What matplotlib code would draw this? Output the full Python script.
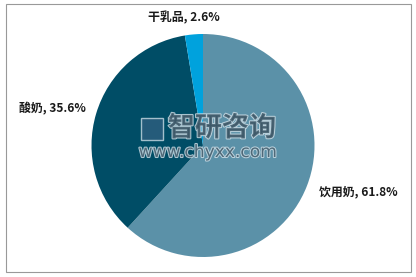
import matplotlib.pyplot as plt
from matplotlib import patheffects
from matplotlib.patches import Rectangle

plt.rcParams['font.family'] = ['Noto Sans CJK SC', 'DejaVu Sans']

CATEGORIES = ["饮用奶", "酸奶", "干乳品"]
SHARES = [61.8, 35.6, 2.6]
COLORS = ["#5b91a8", "#004d66", "#00a2dd"]
# label positions in figure pixels (x centre, y centre from top)
LABEL_POS = [(358, 192), (52, 109), (184, 18)]


def main() -> None:
    W, H = 416, 277
    fig = plt.figure(figsize=(W / 100, H / 100), dpi=100)

    cx, cy, r = 203, 145.5, 111.5
    ax = fig.add_axes([(cx - r) / W, (H - cy - r) / H, 2 * r / W, 2 * r / H])
    ax.pie(SHARES, colors=COLORS, startangle=90, counterclock=False,
           wedgeprops=dict(linewidth=0))
    ax.set_xlim(-1, 1)
    ax.set_ylim(-1, 1)
    ax.set_aspect("equal")
    ax.axis("off")

    for name, val, (x, y) in zip(CATEGORIES, SHARES, LABEL_POS):
        fig.text(x / W, 1 - y / H, f"{name}, {val}%", ha="center", va="center",
                 fontsize=8.6, fontweight="bold", color="#1a1a1a")

    # watermark
    halo = [patheffects.withStroke(linewidth=1.5, foreground="#c9dbe4")]
    fig.patches.append(Rectangle((141 / W, 1 - 140 / H), 22 / W, 22 / H,
                                 transform=fig.transFigure, facecolor="#2f5f80",
                                 edgecolor="#c9dbe4", linewidth=1, alpha=0.8))
    fig.text(222 / W, 1 - 128 / H, "智研咨询", ha="center", va="center",
             fontsize=19.5, fontweight="bold", color="#3d5868", alpha=0.85,
             path_effects=halo)
    fig.text(208 / W, 1 - 152 / H, "www.chyxx.com", ha="center", va="center",
             fontsize=12.3, color="#3d5868", alpha=0.85, path_effects=halo,
             family="DejaVu Sans")

    fig.patches.append(Rectangle((6 / W, 5 / H), 405 / W, 268 / H,
                                 transform=fig.transFigure, fill=False,
                                 edgecolor="#999999", linewidth=0.8))

    fig.savefig("out.png", dpi=100)


if __name__ == "__main__":
    main()
